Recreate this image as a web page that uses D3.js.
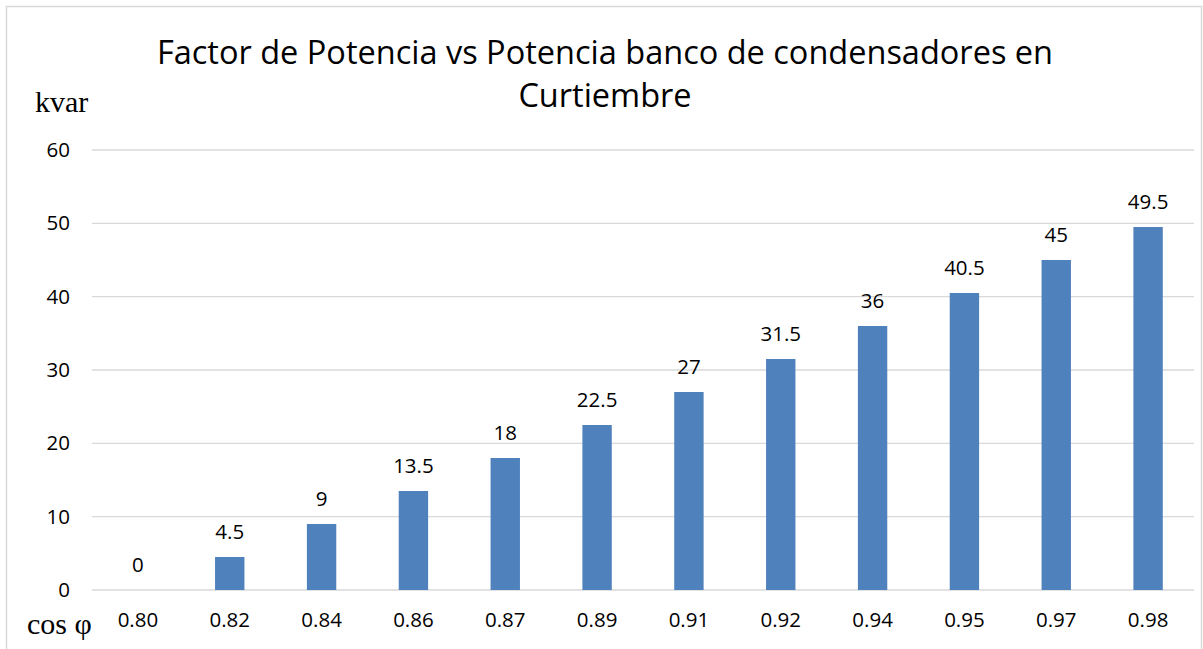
<!DOCTYPE html>
<html>
<head>
<meta charset="utf-8">
<script src="https://cdn.jsdelivr.net/npm/d3@7"></script>
<style>
  body { margin: 0; background: #fff; }
</style>
</head>
<body>
<svg id="chart" width="1203" height="649"></svg>
<script>
var categories = ["0.80", "0.82", "0.84", "0.86", "0.87", "0.89", "0.91", "0.92", "0.94", "0.95", "0.97", "0.98"];
var kvarValues = [0, 4.5, 9, 13.5, 18, 22.5, 27, 31.5, 36, 40.5, 45, 49.5];
var yTicks = [0, 10, 20, 30, 40, 50, 60];

var sansFont = "'Open Sans', 'Noto Sans', sans-serif";
var serifFont = "'Liberation Serif', 'DejaVu Serif', serif";

var margin = { top: 150, right: 9, bottom: 59, left: 92 },
  width = 1203 - margin.left - margin.right,
  height = 649 - margin.top - margin.bottom;

var svg = d3.select("#chart");

// outer frame
svg.append("rect")
  .attr("x", 6.5).attr("y", 6.5)
  .attr("width", 1195).attr("height", 660)
  .attr("fill", "none")
  .attr("stroke", "#d9d9d9")
  .attr("stroke-width", 1.5);

var xScale = d3.scaleBand()
  .domain(categories)
  .range([0, width])
  .paddingInner(0.68)
  .paddingOuter(0.34);

var yScale = d3.scaleLinear().domain([0, 60]).range([height, 0]);

var g = svg.append("g")
  .attr("transform", "translate(" + margin.left + "," + margin.top + ")");

// gridlines
g.selectAll(".grid")
  .data(yTicks)
  .enter()
  .append("line")
  .attr("class", "grid")
  .attr("x1", 0)
  .attr("x2", width)
  .attr("y1", function(d) { return yScale(d); })
  .attr("y2", function(d) { return yScale(d); })
  .attr("stroke", "#d9d9d9")
  .attr("stroke-width", 1.3);

// y axis labels
var yAxis = d3.axisLeft(yScale).tickValues(yTicks).tickSize(0).tickPadding(22);
var yG = g.append("g").call(yAxis);
yG.select(".domain").remove();
yG.selectAll("text")
  .style("font-family", sansFont)
  .style("font-size", "20.5px")
  .attr("fill", "#000");

// x axis labels
var xAxis = d3.axisBottom(xScale).tickSize(0).tickPadding(22);
var xG = g.append("g").attr("transform", "translate(0," + height + ")").call(xAxis);
xG.select(".domain").remove();
xG.selectAll("text")
  .style("font-family", sansFont)
  .style("font-size", "20.5px")
  .attr("fill", "#000");

// bars
g.selectAll(".bar")
  .data(kvarValues)
  .enter()
  .append("rect")
  .attr("class", "bar")
  .attr("x", function(d, i) { return xScale(categories[i]); })
  .attr("y", function(d) { return yScale(d); })
  .attr("width", xScale.bandwidth())
  .attr("height", function(d) { return height - yScale(d); })
  .attr("fill", "#4f81bd");

// value labels
g.selectAll(".label")
  .data(kvarValues)
  .enter()
  .append("text")
  .attr("class", "label")
  .attr("x", function(d, i) { return xScale(categories[i]) + xScale.bandwidth() / 2; })
  .attr("y", function(d) { return yScale(d) - 18; })
  .attr("text-anchor", "middle")
  .style("font-family", sansFont)
  .style("font-size", "20.5px")
  .text(function(d) { return d; });

// title
var title = svg.append("text")
  .attr("text-anchor", "middle")
  .style("font-family", sansFont)
  .style("font-size", "32.5px");
title.append("tspan").attr("x", 605).attr("y", 64)
  .text("Factor de Potencia vs Potencia banco de condensadores en");
title.append("tspan").attr("x", 605).attr("y", 107).text("Curtiembre");

// axis units
svg.append("text")
  .attr("x", 35).attr("y", 112)
  .style("font-family", serifFont)
  .style("font-size", "30px")
  .text("kvar");

svg.append("text")
  .attr("x", 27).attr("y", 634)
  .style("font-family", serifFont)
  .style("font-size", "30px")
  .text("cos φ");
</script>
</body>
</html>
